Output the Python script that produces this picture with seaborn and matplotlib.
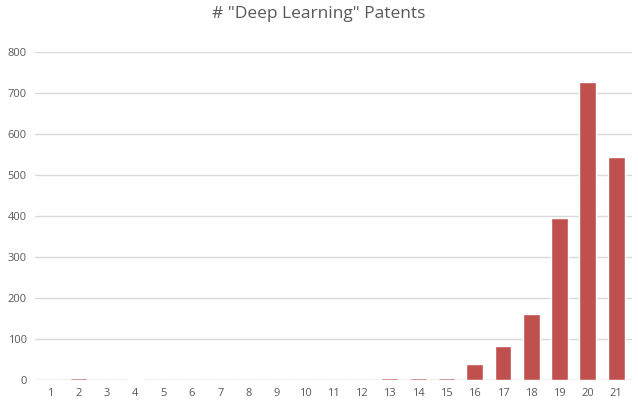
import pandas as pd
import seaborn as sns
import matplotlib.pyplot as plt

years = [str(i) for i in range(1, 22)]
patents = [1, 6, 1, 3, 0, 1, 1, 0, 0, 0, 1, 1, 4, 5, 5, 40, 83, 162, 396, 727, 544]

df = pd.DataFrame({"year": years, "patents": patents})

sns.set_style("white")
plt.rcParams['font.family'] = ['Open Sans', 'DejaVu Sans']

fig = plt.figure(figsize=(6.38, 4.09), dpi=100)
ax = fig.add_axes([0.055, 0.071, 0.935, 0.802])

sns.barplot(data=df, x="year", y="patents", color="#C0504D", width=0.6,
            saturation=1, ax=ax, zorder=3)

ax.set_ylim(0, 800)
ax.set_yticks(range(0, 801, 100))
ax.grid(axis="y", color="#D9D9D9", linewidth=1, zorder=0)
ax.set_xlabel("")
ax.set_ylabel("")
for s in ax.spines.values():
    s.set_visible(False)
ax.axhline(0, color="#D9D9D9", linewidth=1, zorder=2)
ax.tick_params(axis="both", length=0, labelsize=8, labelcolor="#595959", pad=6)
ax.set_xlim(-0.55, 20.55)

fig.suptitle('# "Deep Learning" Patents', y=0.985, fontsize=12.5, color="#595959")

fig.savefig("out.png", dpi=100)
